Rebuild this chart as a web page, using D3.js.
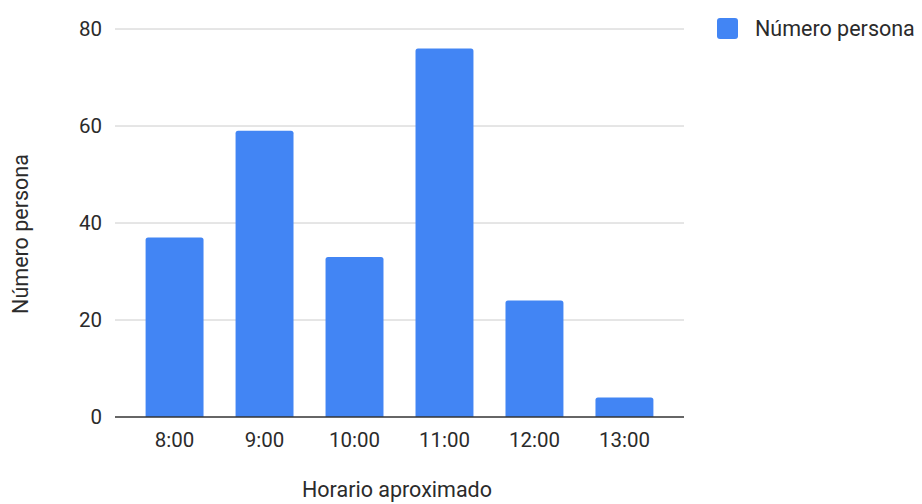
<!DOCTYPE html>
<meta charset="utf-8">
<head>
<style>
body { margin: 0; background: #fff; }
text { font-family: Roboto, "Liberation Sans", Arial, sans-serif; fill: #2b2b2b; }
.grid line { stroke: #ccc; stroke-width: 1; }
</style>
</head>
<body>
<div id="chart"></div>
<script src="https://d3js.org/d3.v7.min.js"></script>
<script>

// data
var horas = ["8:00", "9:00", "10:00", "11:00", "12:00", "13:00"];
var personas = [37, 59, 33, 76, 24, 4];
var yTicks = [0, 20, 40, 60, 80];
var serieNombre = "Número persona";
var xTitulo = "Horario aproximado";
var yTitulo = "Número persona";

var W = 922, H = 504;
var margin = {top: 29, right: 238, bottom: 87, left: 115},
    width = W - margin.left - margin.right,
    height = H - margin.top - margin.bottom;

var svg = d3.select("#chart")
  .append("svg")
    .attr("width", W)
    .attr("height", H);

var g = svg.append("g")
    .attr("transform", "translate(" + margin.left + "," + margin.top + ")");

var x = d3.scaleBand()
    .domain(horas)
    .range([0, width])
    .paddingInner(0.356)
    .paddingOuter(0.34);

var y = d3.scaleLinear()
    .domain([0, 80])
    .range([height, 0]);

// gridlines
g.append("g")
  .attr("class", "grid")
  .selectAll("line")
  .data(yTicks.filter(function(d){ return d > 0; }))
  .enter().append("line")
    .attr("x1", 0)
    .attr("x2", width)
    .attr("y1", function(d){ return y(d); })
    .attr("y2", function(d){ return y(d); });

// y tick labels
g.append("g")
  .selectAll("text")
  .data(yTicks)
  .enter().append("text")
    .attr("x", -13)
    .attr("y", function(d){ return y(d); })
    .attr("dy", "0.36em")
    .attr("text-anchor", "end")
    .style("font-size", "20.5px")
    .text(function(d){ return d; });

// bars with slightly rounded tops
function barPath(d, i) {
  var x0 = x(horas[i]), w = x.bandwidth(), y0 = y(d), b = y(0), r = 2.5;
  return "M" + x0 + "," + b +
         "V" + (y0 + r) +
         "Q" + x0 + "," + y0 + " " + (x0 + r) + "," + y0 +
         "H" + (x0 + w - r) +
         "Q" + (x0 + w) + "," + y0 + " " + (x0 + w) + "," + (y0 + r) +
         "V" + b + "Z";
}

g.append("g")
  .selectAll("path")
  .data(personas)
  .enter().append("path")
    .attr("d", barPath)
    .attr("fill", "#4285f4");

// baseline
g.append("line")
  .attr("x1", 0)
  .attr("x2", width)
  .attr("y1", y(0))
  .attr("y2", y(0))
  .attr("stroke", "#333")
  .attr("stroke-width", 1.5);

// x tick labels
g.append("g")
  .selectAll("text")
  .data(horas)
  .enter().append("text")
    .attr("x", function(d){ return x(d) + x.bandwidth() / 2; })
    .attr("y", height + 30)
    .attr("text-anchor", "middle")
    .style("font-size", "20.5px")
    .text(function(d){ return d; });

// axis titles
svg.append("text")
  .attr("x", 397)
  .attr("y", 497)
  .attr("text-anchor", "middle")
  .style("font-size", "21.5px")
  .text(xTitulo);

svg.append("text")
  .attr("transform", "translate(28,234) rotate(-90)")
  .attr("text-anchor", "middle")
  .style("font-size", "21.5px")
  .text(yTitulo);

// legend
var legend = svg.append("g")
  .attr("transform", "translate(717,18)");
legend.append("rect")
  .attr("width", 21)
  .attr("height", 21)
  .attr("rx", 3)
  .attr("fill", "#4285f4");
legend.append("text")
  .attr("x", 38)
  .attr("y", 10.5)
  .attr("dy", "0.36em")
  .style("font-size", "21.5px")
  .text(serieNombre);

</script>
</body>
</html>
